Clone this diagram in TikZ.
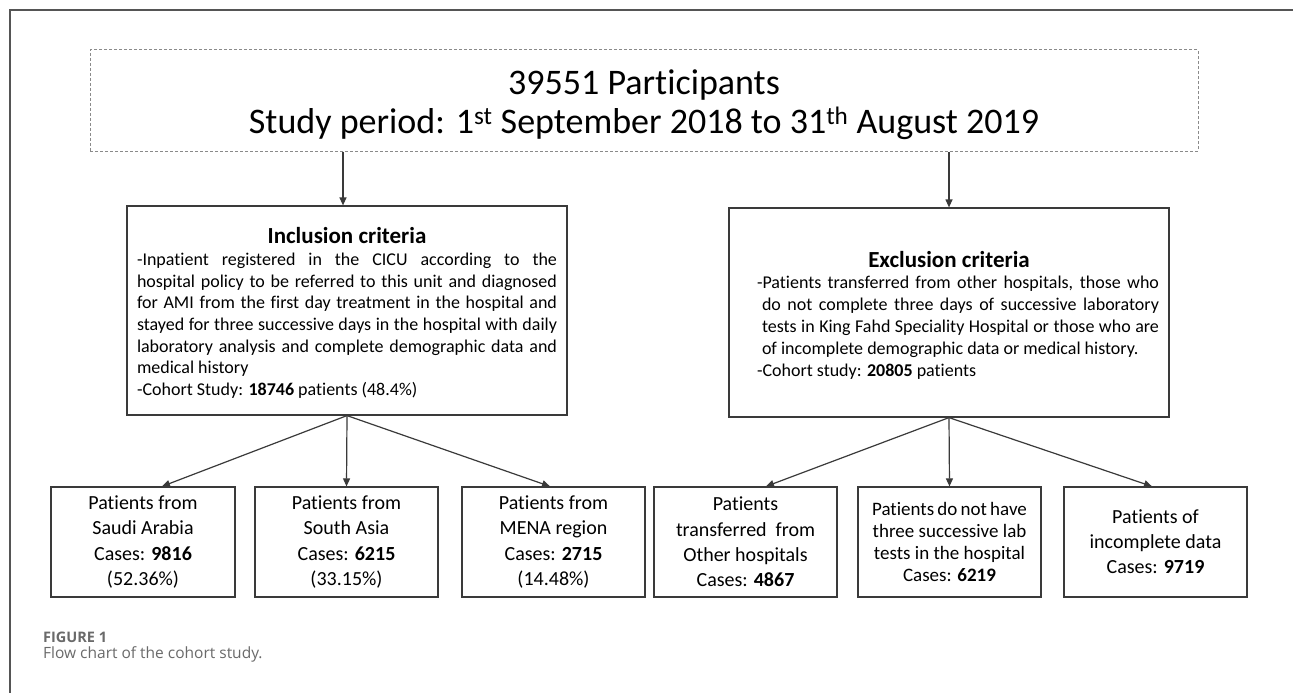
\documentclass[tikz,border=0pt]{standalone}
\usepackage{fontspec}
\setmainfont{Carlito}[Ligatures=NoCommon]
\newfontfamily\capfont{Open Sans}
\usetikzlibrary{arrows.meta}
\definecolor{boxline}{HTML}{3A3A3A}
\definecolor{frameline}{HTML}{555555}
\definecolor{dashline}{HTML}{8A8A8A}
\definecolor{captext}{HTML}{6A6A6A}
\newcommand\tightspace{\spaceskip=0.17em\relax}
\tikzset{
  box/.style={draw=boxline, line width=1.2pt, inner sep=0pt, text=black},
  mainbox/.style={box, minimum width=440pt, minimum height=209pt},
  maintext/.style={inner sep=0pt, text width=420pt, align=justify},
  smallbox/.style={box, minimum width=183pt, minimum height=110pt, align=center,
     font=\fontsize{20}{25.3}\selectfont},
  arr/.style={draw=boxline, line width=1.2pt, -{Triangle[length=8pt,width=7pt]}},
}
\begin{document}
\begin{tikzpicture}[x=1pt,y=-1pt]
\useasboundingbox (0,0) rectangle (1293,693);
\fill[white] (0,0) rectangle (1293,693);
% outer frame
\draw[frameline, line width=1.5pt] (10,693) -- (10,10) -- (1293,10);

% top dashed box
\node[draw=dashline, dash pattern=on 3pt off 2pt, line width=1pt,
      minimum width=1108pt, minimum height=101pt, inner sep=0pt] (top) at (644,100.5) {};
\node[inner sep=0pt, align=center, font=\fontsize{36}{41}\selectfont] (toptxt) at (644,104.5)
  {39551 Participants\\[-2pt]Study period: 1\textsuperscript{st} September 2018 to 31\textsuperscript{th} August 2019};

% inclusion
\node[mainbox] (inc) at (347,310.5) {};
\node[maintext] (inctxt) at (347,313)
{{\centering\fontsize{23}{27.5}\selectfont\bfseries Inclusion criteria\par}
\fontsize{18}{21.7}\selectfont\hyphenpenalty=10000
-Inpatient registered in the CICU according to the\linebreak
hospital policy to be referred to this unit and diagnosed\linebreak
for AMI from the first day treatment in the hospital and\linebreak
stayed for three successive days in the hospital with daily\linebreak
laboratory analysis and complete demographic data and\linebreak
medical history\par
-Cohort Study: \textbf{18746} patients (48.4\%)\par};

% exclusion
\node[mainbox] (exc) at (949,312.5) {};
\node[maintext] (exctxt) at (949,315)
{\leftskip=18pt
{\centering\fontsize{23}{27.5}\selectfont\bfseries Exclusion criteria\par}
\fontsize{18}{21.8}\selectfont\hyphenpenalty=10000
\hangindent=5pt\hangafter=1
-Patients transferred from other hospitals, those who\linebreak
do not complete three days of successive laboratory\linebreak
tests in King Fahd Speciality Hospital or those who are\linebreak
of incomplete demographic data or medical history.\par
-Cohort study: \textbf{20805} patients\par};

% bottom boxes
\node[smallbox, minimum width=184pt] (b1) at (143,542)
  {Patients from\\Saudi Arabia\\Cases: \textbf{9816}\\(52.36\%)};
\node[smallbox] (b2) at (346.5,542)
  {Patients from\\South Asia\\Cases: \textbf{6215}\\(33.15\%)};
\node[smallbox] (b3) at (553.5,542)
  {Patients from\\MENA region\\Cases: \textbf{2715}\\(14.48\%)};
\node[smallbox] (b4) at (745.5,542)
  {Patients\\transferred~~from\\Other hospitals\\Cases: \textbf{4867}};
\node[smallbox, font=\fontsize{19}{22}\selectfont] (b5) at (949.5,542)
  {\tightspace Patients do not have\\three successive lab\\tests in the hospital\\Cases: \textbf{6219}};
\node[smallbox, font=\fontsize{20}{25}\selectfont] (b6) at (1155.5,542)
  {Patients of\\incomplete data\\Cases: \textbf{9719}};

% arrows
\draw[arr] ([xshift=-4pt]inc.north |- top.south) -- ([xshift=-4pt]inc.north);
\draw[arr] (exc.north |- top.south) -- (exc.north);
\draw[arr] (inc.south) -- ([xshift=19pt]b1.north);
\draw[arr] (inc.south) -- (b2.north);
\draw[arr] (inc.south) -- ([xshift=-3.5pt]b3.north);
\draw[arr] (exc.south) -- ([xshift=20.5pt]b4.north);
\draw[arr] (exc.south) -- (b5.north);
\draw[arr] (exc.south) -- ([xshift=-3.5pt]b6.north);

% caption
\node[anchor=base west, inner sep=0pt, text=captext,
      font=\capfont\bfseries\fontsize{14.5}{17}\selectfont] (fig) at (43,642.5) {FIGURE 1};
\node[anchor=base west, inner sep=0pt, text=captext,
      font=\capfont\fontsize{15.5}{19}\selectfont] (cap) at (43,658) {Flow chart of the cohort study.};
\end{tikzpicture}
\end{document}
